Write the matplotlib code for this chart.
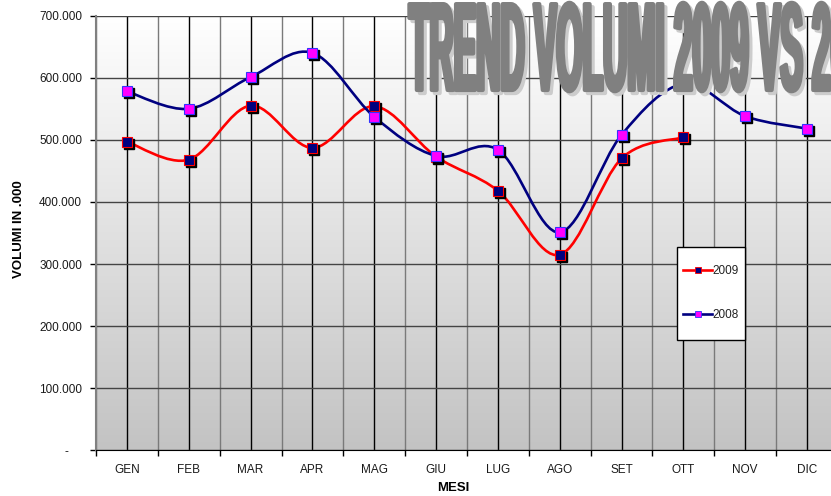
import matplotlib
matplotlib.use("Agg")
import matplotlib.pyplot as plt
import numpy as np
from matplotlib.colors import LinearSegmentedColormap, to_rgba
from matplotlib.lines import Line2D
from matplotlib.patches import Rectangle, PathPatch
from matplotlib.path import Path
from matplotlib.patheffects import AbstractPathEffect
from matplotlib.ticker import FuncFormatter
from matplotlib.transforms import Affine2D, ScaledTranslation

mesi = ['GEN', 'FEB', 'MAR', 'APR', 'MAG', 'GIU', 'LUG', 'AGO', 'SET', 'OTT', 'NOV', 'DIC']
vol_2009 = [497000, 468000, 555000, 487000, 554000, 473000, 418000, 315000, 470000, 504000]
vol_2008 = [578000, 550000, 601000, 640000, 537000, 474000, 484000, 351000, 508000, 590000, 538000, 518000]
y_ticks = [0, 100000, 200000, 300000, 400000, 500000, 600000, 700000]

plt.rcParams['font.family'] = ['Liberation Sans', 'DejaVu Sans']


class Stretched(AbstractPathEffect):
    # draws the text path scaled (tall, condensed look), optionally offset as a shadow
    def __init__(self, sx, sy, color, offset=(0, 0), lw=0):
        super().__init__(offset)
        self.sx = sx
        self.sy = sy
        self.color = color
        self.lw = lw

    def draw_path(self, renderer, gc, tpath, affine, rgbFace=None):
        gc0 = renderer.new_gc()
        gc0.copy_properties(gc)
        gc0.set_foreground(self.color)
        gc0.set_linewidth(self.lw)
        trans = Affine2D().scale(self.sx, self.sy) + affine + self._offset_transform(renderer)
        renderer.draw_path(gc0, tpath, trans, to_rgba(self.color))
        gc0.restore()


def smooth_path(xs, ys):
    pts = np.column_stack([xs, ys]).astype(float)
    n = len(pts)
    verts = [pts[0]]
    codes = [Path.MOVETO]
    for i in range(n - 1):
        p0 = pts[max(i - 1, 0)]
        p1 = pts[i]
        p2 = pts[i + 1]
        p3 = pts[min(i + 2, n - 1)]
        verts += [p1 + (p2 - p0) / 6, p2 - (p3 - p1) / 6, p2]
        codes += [Path.CURVE4] * 3
    return Path(verts, codes)


fig = plt.figure(figsize=(8.31, 4.96), dpi=100)
ax = fig.add_axes([96 / 831, 45.6 / 496, 742 / 831, 434.8 / 496])

x = np.arange(len(mesi))

# background gradient
bg = LinearSegmentedColormap.from_list('bg', ['#ffffff', '#c3c3c3'])
ax.imshow(np.linspace(0, 1, 256).reshape(-1, 1), cmap=bg, extent=[-0.5, 11.5, 0, 700000],
          aspect='auto', origin='upper', zorder=0)

ax.set_xlim(-0.5, 11.5)
ax.set_ylim(0, 700000)

ax.set_xticks(x)
ax.set_xticklabels(mesi)
ax.set_xticks(np.arange(-0.5, 12, 1), minor=True)
ax.set_yticks(y_ticks)
ax.yaxis.set_major_formatter(FuncFormatter(
    lambda v, p: '-    ' if v == 0 else f'{int(v):,}'.replace(',', '.')))

ax.grid(which='major', axis='x', color='black', lw=1)
ax.grid(which='minor', axis='x', color='#7a7a7a', lw=1)
ax.grid(which='major', axis='y', color='#444444', lw=1)

ax.tick_params(axis='x', which='major', length=0, pad=9.5, labelsize=8.5, labelcolor='#1a1a1a')
ax.tick_params(axis='x', which='minor', length=4, width=1, color='black')
ax.tick_params(axis='y', length=4, width=1, pad=6, labelsize=8.5, labelcolor='#1a1a1a')

for s in ['top', 'right']:
    ax.spines[s].set_visible(False)
ax.spines['left'].set_color('#808080')
ax.spines['left'].set_linewidth(1.5)
ax.spines['bottom'].set_color('black')

ax.set_ylabel('VOLUMI IN .000', fontsize=9.5, fontweight='bold')
ax.yaxis.set_label_coords(-0.096, 0.51)
ax.set_xlabel('MESI', fontsize=9.5, fontweight='bold')
ax.xaxis.set_label_coords(0.481, -0.073)

shadow = ax.transData + ScaledTranslation(2 / 100, -2 / 100, fig.dpi_scale_trans)

# 2009
x09 = x[:len(vol_2009)]
ax.add_patch(PathPatch(smooth_path(x09, vol_2009), fill=False, ec='#ff0000', lw=1.9, zorder=3))
ax.plot(x09, vol_2009, ls='none', marker='s', ms=7.6, color='black', transform=shadow, zorder=3)
ax.plot(x09, vol_2009, ls='none', marker='s', ms=7.6, mfc='#000080', mec='#ff0000', mew=0.8, zorder=3)

# 2008
ax.add_patch(PathPatch(smooth_path(x, vol_2008), fill=False, ec='#000080', lw=1.9, zorder=4))
ax.plot(x, vol_2008, ls='none', marker='s', ms=7.6, color='black', transform=shadow, zorder=4)
ax.plot(x, vol_2008, ls='none', marker='s', ms=7.6, mfc='#ff00ff', mec='#3333ff', mew=0.8, zorder=4)

# legend box
fig.add_artist(Rectangle((677 / 831, (496 - 340) / 496), 68 / 831, 93 / 496,
                         transform=fig.transFigure, fc='white', ec='black', lw=1, zorder=6))
handles = [
    Line2D([], [], color='#ff0000', lw=1.9, marker='s', ms=5, mfc='#000080', mec='#ff0000', mew=0.6),
    Line2D([], [], color='#000080', lw=1.9, marker='s', ms=5, mfc='#ff00ff', mec='#3333ff', mew=0.6),
]
leg = fig.legend(handles, ['2009', '2008'], loc='center', bbox_to_anchor=(711 / 831, (496 - 293) / 496),
                 frameon=False, fontsize=8.5, handlelength=2.5, handletextpad=0.05,
                 labelspacing=2.7, borderpad=0)
leg.set_zorder(7)
for t in leg.get_texts():
    t.set_color('#222222')

# big title, clipped at the right edge
fig.text(409 / 831, (496 - 90) / 496, 'TREND VOLUMI 2009 VS 2008', fontsize=31,
         fontfamily=['Liberation Sans Narrow', 'Liberation Sans'], fontweight='bold',
         color='#808080', ha='left', va='baseline', zorder=8,
         path_effects=[Stretched(0.78, 2.9, '#cccccc', offset=(2.2, -2.2), lw=3),
                       Stretched(0.78, 2.9, '#808080', lw=3)])

plt.savefig('out.png', dpi=100)
